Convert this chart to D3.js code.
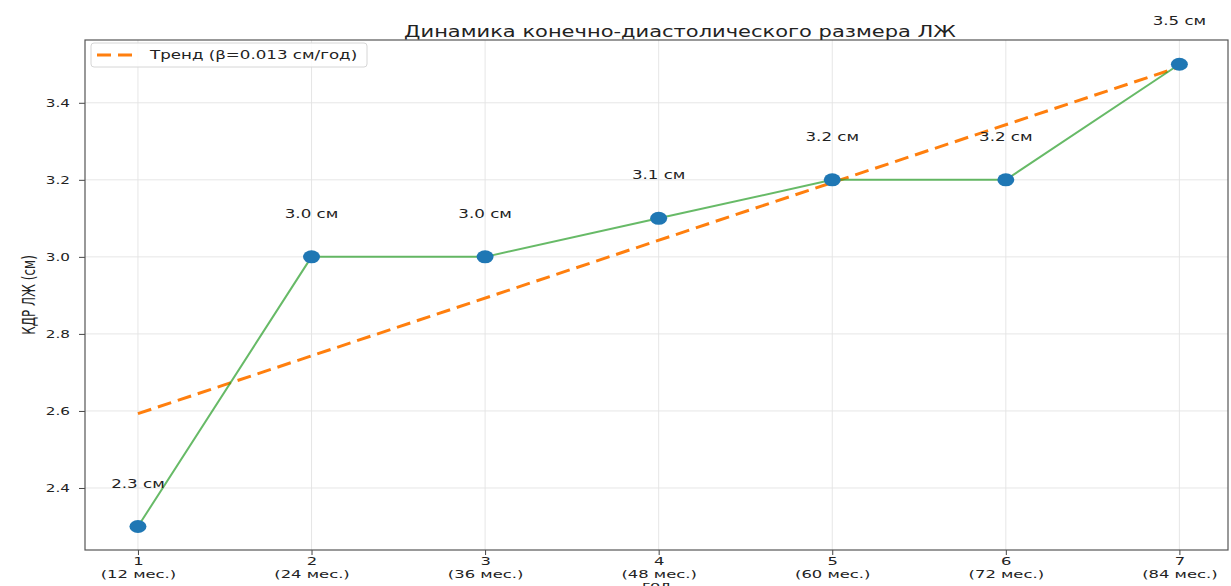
<!DOCTYPE html>
<html>
<head>
<meta charset="utf-8">
<script src="https://cdn.jsdelivr.net/npm/d3@7"></script>
<style>
  html, body { margin: 0; padding: 0; background: #fff; }
  svg { display: block; }
  text { font-family: "DejaVu Sans", sans-serif; fill: #222; }
</style>
</head>
<body>
<svg id="chart" width="1231" height="586"></svg>
<script>
// Study years and the matching follow-up months
const years = [1, 2, 3, 4, 5, 6, 7];
const months = [12, 24, 36, 48, 60, 72, 84];
// LV end-diastolic dimension, cm
const lvedd = [2.3, 3.0, 3.0, 3.1, 3.2, 3.2, 3.5];
// Fitted trend line, value at the first and last year
const trendYears = [1, 7];
const trendValues = [2.593, 3.493];
const yTicks = [2.4, 2.6, 2.8, 3.0, 3.2, 3.4];

const titleText = "Динамика конечно-диастолического размера ЛЖ";
const yLabelText = "КДР ЛЖ (см)";
const xLabelText = "год";
const legendText = "Тренд (β=0.013 см/год)";

const SX = 1.45; // horizontal text stretch
const svg = d3.select("#chart");
const L = 85, R = 1228, T = 40, B = 550;

const x = d3.scaleLinear().domain([0.695, 7.28]).range([L, R]);
const y = d3.scaleLinear().domain([2.239, 3.563]).range([B, T]);

function label(g, px, py, txt, size, anchor, sx) {
  return g.append("text")
    .attr("transform", `translate(${px},${py}) scale(${sx || SX},1)`)
    .attr("text-anchor", anchor || "middle")
    .attr("font-size", size)
    .text(txt);
}

// grid
const grid = svg.append("g");
grid.selectAll("line.vx").data(years).join("line")
  .attr("x1", d => x(d)).attr("x2", d => x(d)).attr("y1", T).attr("y2", B)
  .attr("stroke", "#e3e3e3").attr("stroke-width", 0.9);
grid.selectAll("line.hy").data(yTicks).join("line")
  .attr("x1", L).attr("x2", R).attr("y1", d => y(d)).attr("y2", d => y(d))
  .attr("stroke", "#e3e3e3").attr("stroke-width", 0.9);

// trend
svg.append("path")
  .datum(trendYears.map((d, i) => [d, trendValues[i]]))
  .attr("d", d3.line().x(d => x(d[0])).y(d => y(d[1])))
  .attr("fill", "none").attr("stroke", "#ff7f0e").attr("stroke-width", 3)
  .attr("stroke-dasharray", "14,7");

// series line
svg.append("path")
  .datum(years.map((d, i) => [d, lvedd[i]]))
  .attr("d", d3.line().x(d => x(d[0])).y(d => y(d[1])))
  .attr("fill", "none").attr("stroke", "#2ca02c").attr("stroke-opacity", 0.72)
  .attr("stroke-width", 2);

// markers
svg.selectAll("ellipse.pt").data(years).join("ellipse")
  .attr("cx", d => x(d)).attr("cy", (d, i) => y(lvedd[i]))
  .attr("rx", 8.5).attr("ry", 6.5).attr("fill", "#1f77b4");

// value labels
const vl = svg.append("g");
years.forEach((d, i) => {
  label(vl, x(d), y(lvedd[i]) - 39, lvedd[i].toFixed(1) + " см", 11.5, "middle");
});

// axes
const xAxis = svg.append("g").attr("transform", `translate(0,${B})`)
  .call(d3.axisBottom(x).tickValues(years).tickSize(5).tickPadding(3).tickFormat(d => d));
const yAxis = svg.append("g").attr("transform", `translate(${L},0)`)
  .call(d3.axisLeft(y).tickValues(yTicks).tickSize(6).tickPadding(8).tickFormat(d3.format(".1f")));
[xAxis, yAxis].forEach(a => {
  a.select(".domain").remove();
  a.selectAll(".tick line").attr("stroke", "#444").attr("stroke-width", 1);
  a.selectAll(".tick text").attr("font-size", 10.5).attr("fill", "#333")
    .attr("font-family", "DejaVu Sans");
});
yAxis.selectAll(".tick text").attr("transform", `scale(${SX},1)`)
  .attr("x", -15 / SX);
xAxis.selectAll(".tick text").attr("font-size", 11.3).each(function(d, i) {
  const t = d3.select(this);
  t.text(null).attr("transform", `scale(${SX},1)`).attr("y", 0).attr("dy", null);
  t.append("tspan").attr("x", 0).attr("y", 15).text(d);
  t.append("tspan").attr("x", 0).attr("y", 28).text(`(${months[i]} мес.)`);
});

// frame
svg.append("rect").attr("x", L).attr("y", T).attr("width", R - L).attr("height", B - T)
  .attr("fill", "none").attr("stroke", "#555").attr("stroke-width", 1.2);

// title and axis titles
label(svg, 680, 37, titleText, 15, "middle", 1.4);
svg.append("text")
  .attr("transform", `translate(35,${(T + B) / 2}) rotate(-90) scale(1,${SX})`)
  .attr("text-anchor", "middle").attr("font-size", 12).text(yLabelText);
label(svg, (L + R) / 2, 589, xLabelText, 11, "middle");

// legend
const lg = svg.append("g");
lg.append("rect").attr("x", 91).attr("y", 43).attr("width", 276).attr("height", 24)
  .attr("rx", 3).attr("fill", "#fff").attr("fill-opacity", 0.85)
  .attr("stroke", "#d6d6d6").attr("stroke-width", 1);
lg.append("line").attr("x1", 97).attr("x2", 138).attr("y1", 55).attr("y2", 55)
  .attr("stroke", "#ff7f0e").attr("stroke-width", 3).attr("stroke-dasharray", "14,7");
label(lg, 150, 59, legendText, 11.5, "start");
</script>
</body>
</html>
